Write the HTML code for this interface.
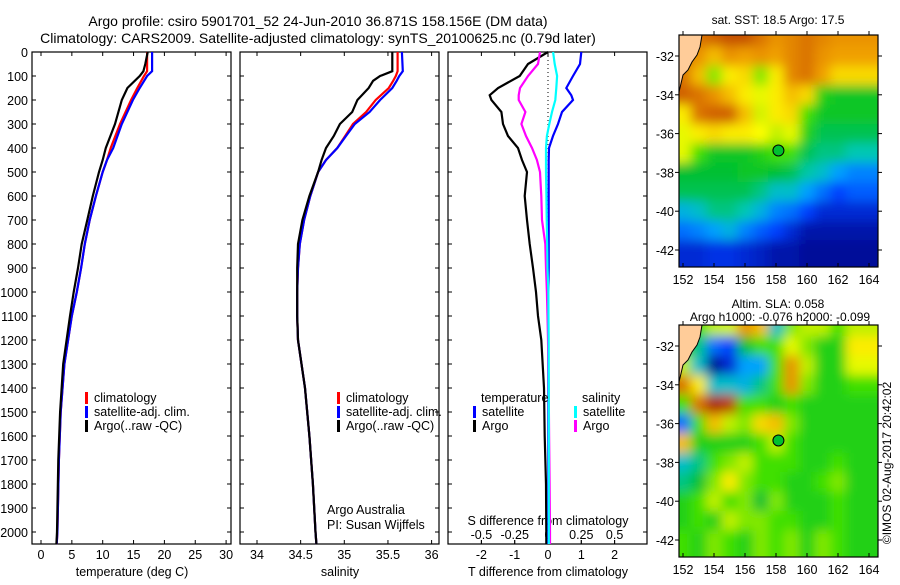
<!DOCTYPE html>
<html><head><meta charset="utf-8">
<style>
body{margin:0;background:#fff;}
svg text{font-family:"Liberation Sans",sans-serif;fill:#000;}
</style></head>
<body>
<svg id="fig" width="900" height="580" viewBox="0 0 900 580" xmlns="http://www.w3.org/2000/svg">
<defs>
<filter id="blur" x="-10%" y="-10%" width="120%" height="120%"><feGaussianBlur stdDeviation="5.5"/></filter>
<clipPath id="clip1"><rect x="679" y="35" width="199" height="232"/></clipPath>
<clipPath id="clip2"><rect x="679" y="325" width="199" height="232"/></clipPath>
</defs>
<text x="318" y="26" font-size="14" text-anchor="middle">Argo profile: csiro 5901701_52 24-Jun-2010 36.871S 158.156E (DM data)</text>
<text x="318" y="43" font-size="14" text-anchor="middle">Climatology: CARS2009. Satellite-adjusted climatology: synTS_20100625.nc (0.79d later)</text>
<g id="g"></g>
</svg>
<script>
// ---- profile data ----
const tDepth   = [0,50,80,100,150,200,300,400,450,500,600,700,800,900,1000,1100,1300,1500,1700,2000,2050];
const tArgo    = [17.3,16.9,16.6,16.0,14.0,13.1,12.0,10.5,10.0,9.4,8.4,7.5,6.6,6.0,5.3,4.7,3.6,3.1,2.8,2.6,2.5];
const tSat     = [18.0,18.0,18.0,17.2,16.0,14.9,13.1,11.7,10.7,10.0,8.9,7.9,7.1,6.5,5.8,5.0,3.8,3.2,2.9,2.65,2.55];
const tClim    = [17.2,17.2,17.2,16.7,15.6,14.6,12.8,11.3,10.7,10.0,8.9,7.9,7.1,6.5,5.8,5.0,3.8,3.2,2.9,2.65,2.55];
const sDepth   = [0,80,100,120,150,200,250,300,350,400,450,500,600,700,800,900,1000,1100,1200,1400,1600,1800,2000,2050];
const sArgo    = [35.55,35.55,35.41,35.33,35.28,35.15,35.09,34.95,34.88,34.79,34.74,34.70,34.60,34.52,34.47,34.46,34.46,34.46,34.47,34.55,34.60,34.64,34.67,34.68];
const sSat     = [35.66,35.67,35.63,35.60,35.55,35.41,35.29,35.12,35.02,34.92,34.79,34.70,34.61,34.54,34.49,34.47,34.46,34.46,34.47,34.55,34.60,34.64,34.67,34.68];
const sClim    = [35.61,35.61,35.59,35.56,35.51,35.36,35.25,35.10,35.01,34.92,34.79,34.70,34.61,34.54,34.49,34.47,34.46,34.46,34.47,34.55,34.60,34.64,34.67,34.68];
// ---- difference data ----
const dDepth   = [0,50,100,150,180,200,250,300,350,400,450,500,600,700,800,900,1000,1100,1200,1400,1600,1800,2000,2050];
const dTArgo   = [0,-0.6,-0.85,-1.5,-1.75,-1.7,-1.4,-1.35,-1.2,-0.9,-0.78,-0.63,-0.7,-0.63,-0.55,-0.45,-0.36,-0.3,-0.2,-0.12,-0.1,-0.06,-0.05,-0.05];
const dTSat    = [1.0,0.96,0.75,0.55,0.7,0.75,0.42,0.3,0.15,0.03,0.02,0.02,0.02,0.02,0.02,0.02,0.01,0.01,0.01,0.01,0.01,0.01,0.01,0.01];
const dSArgo   = [-0.06,-0.075,-0.15,-0.21,-0.22,-0.22,-0.17,-0.2,-0.165,-0.12,-0.083,-0.06,-0.05,-0.045,-0.02,-0.015,-0.008,-0.004,0,0.005,0.008,0.012,0.015,0.015];
const dSSat    = [0.038,0.05,0.068,0.062,0.058,0.055,0.03,0.01,-0.008,-0.015,-0.015,-0.015,-0.012,-0.01,-0.006,-0.004,0.003,0.004,0.005,0.006,0.006,0.006,0.006,0.006];
// ---- axis ticks ----
const depthTicks = [0,100,200,300,400,500,600,700,800,900,1000,1100,1200,1300,1400,1500,1600,1700,1800,1900,2000];
const tempTicks = [0,5,10,15,20,25,30];
const salTicks = ["34","34.5","35","35.5","36"];
const dTTicks = [-2,-1,0,1,2];
const dSTicks = ["-0.5","-0.25","0","0.25","0.5"];
const lonTicks = [152,154,156,158,160,162,164];
const latTicks = [-32,-34,-36,-38,-40,-42];
// ---- map grids (normalised colour index, rows lat -31..-42, cols lon 152..163) ----
const sstGrid = [
[.85,.85,.88,.9,.9,.85,.8,.82,.85,.82,.8,.8],
[.85,.8,.75,.8,.78,.8,.78,.82,.85,.8,.78,.78],
[.85,.75,.55,.7,.72,.55,.7,.82,.85,.78,.72,.72],
[.88,.85,.8,.75,.7,.65,.7,.75,.72,.45,.42,.42],
[.7,.85,.88,.88,.75,.62,.7,.72,.5,.42,.42,.42],
[.65,.7,.72,.7,.7,.68,.6,.65,.45,.38,.38,.38],
[.65,.5,.42,.42,.42,.45,.5,.5,.38,.35,.35,.32],
[.4,.4,.4,.4,.42,.42,.4,.38,.33,.3,.25,.22],
[.38,.38,.38,.38,.38,.35,.3,.3,.25,.2,.15,.18],
[.28,.3,.35,.35,.32,.28,.22,.2,.15,.1,.1,.1],
[.2,.22,.25,.28,.22,.18,.15,.1,.05,.05,.05,.05],
[.1,.1,.12,.12,.1,.08,.05,.05,.03,.03,.03,.03]];
const slaGrid = [
[.45,.5,.6,.62,.8,.75,.3,.55,.6,.6,.5,.6],
[.45,.35,.2,.15,.4,.5,.5,.65,.55,.45,.45,.7],
[.6,.3,.02,.1,.25,.25,.5,.8,.6,.45,.45,.65],
[.85,.7,.3,.3,.28,.35,.5,.8,.55,.45,.45,.5],
[.5,.85,.95,.92,.5,.5,.45,.5,.45,.45,.45,.45],
[.2,.5,.75,.6,.55,.72,.75,.55,.45,.45,.45,.45],
[.75,.45,.45,.45,.45,.5,.6,.5,.45,.45,.45,.45],
[.3,.35,.5,.55,.6,.5,.5,.5,.45,.45,.5,.45],
[.35,.4,.55,.7,.55,.5,.5,.45,.45,.5,.55,.45],
[.45,.5,.6,.5,.55,.4,.55,.45,.45,.45,.5,.45],
[.45,.5,.45,.6,.55,.55,.5,.5,.45,.45,.5,.45],
[.5,.45,.55,.5,.45,.55,.5,.55,.45,.55,.5,.45]];
const floatLon = 158.156, floatLat = -36.871;

const NS="http://www.w3.org/2000/svg";
const G=document.getElementById('g');
function mk(tag,attrs,parent){const e=document.createElementNS(NS,tag);for(const k in attrs)e.setAttribute(k,attrs[k]);(parent||G).appendChild(e);return e;}
const yD=d=>52+d*0.24;
const xT=t=>41+t*6.17;
const xS=s=>257+(s-34)*87.3;
const xdT=t=>548+t*33.3;
const xdS=s=>548+s*133.2;

function frame(x,y,w,h,name){const r=mk('rect',{x:x,y:y,width:w,height:h,fill:'none',stroke:'#000','stroke-width':1.2});

}
function txt(x,y,s,size,anchor,name){const t=mk('text',{x:x,y:y,'font-size':size,'text-anchor':anchor||'middle'});t.textContent=s;

return t;}
function line(xs,ys,col,name,w){let d='';for(let i=0;i<xs.length;i++)d+=(i?'L':'M')+xs[i].toFixed(1)+','+ys[i].toFixed(1);
const p=mk('path',{d:d,fill:'none',stroke:col,'stroke-width':w||2.2,'stroke-linejoin':'miter'});

}

// panels
const panels=[[32,'temperature-panel'],[240,'salinity-panel'],[448,'difference-panel']];
panels.forEach(([x0,n])=>{frame(x0,52,199,492,n+'-frame');
 depthTicks.forEach(d=>{mk('line',{x1:x0,x2:x0+4,y1:yD(d),y2:yD(d),stroke:'#000'});mk('line',{x1:x0+199,x2:x0+195,y1:yD(d),y2:yD(d),stroke:'#000'});});});
depthTicks.forEach(d=>txt(28,yD(d)+5,String(d),12.5,'end','depth-tick-label'));
// temp axis
tempTicks.forEach(t=>{mk('line',{x1:xT(t),x2:xT(t),y1:544,y2:540,stroke:'#000'});mk('line',{x1:xT(t),x2:xT(t),y1:52,y2:56,stroke:'#000'});txt(xT(t),559,String(t),12.5,'middle','temp-tick-label');});
txt(132,576,'temperature (deg C)',12.5,'middle','temperature-axis-title');
salTicks.forEach(s=>{const x=xS(parseFloat(s));mk('line',{x1:x,x2:x,y1:544,y2:540,stroke:'#000'});mk('line',{x1:x,x2:x,y1:52,y2:56,stroke:'#000'});txt(x,559,s,12.5,'middle','salinity-tick-label');});
txt(340,576,'salinity',12.5,'middle','salinity-axis-title');
dTTicks.forEach(t=>{const x=xdT(t);mk('line',{x1:x,x2:x,y1:544,y2:540,stroke:'#000'});mk('line',{x1:x,x2:x,y1:52,y2:56,stroke:'#000'});txt(x,559,String(t),12.5,'middle','t-diff-tick-label');});
dSTicks.forEach(s=>{const x=xdS(parseFloat(s));mk('line',{x1:x,x2:x,y1:544,y2:540,stroke:'#000'});txt(x,539,s,12.5,'middle','s-diff-tick-label');});
txt(548,525,'S difference from climatology',12.5,'middle','s-diff-axis-title');
txt(548,576,'T difference from climatology',12.5,'middle','t-diff-axis-title');
mk('line',{x1:548,x2:548,y1:52,y2:300,stroke:'#000','stroke-dasharray':'1,3'});

// series
line(tClim.map(xT),tDepth.map(yD),'#f00','temp-climatology-line');
line(tSat.map(xT),tDepth.map(yD),'#00f','temp-satellite-line');
line(tArgo.map(xT),tDepth.map(yD),'#000','temp-argo-line');
line(sClim.map(xS),sDepth.map(yD),'#f00','sal-climatology-line');
line(sSat.map(xS),sDepth.map(yD),'#00f','sal-satellite-line');
line(sArgo.map(xS),sDepth.map(yD),'#000','sal-argo-line');
line(dTArgo.map(xdT),dDepth.map(yD),'#000','t-diff-argo-line');
line(dTSat.map(xdT),dDepth.map(yD),'#00f','t-diff-satellite-line');
line(dSArgo.map(xdS),dDepth.map(yD),'#f0f','s-diff-argo-line');
line(dSSat.map(xdS),dDepth.map(yD),'#0ff','s-diff-satellite-line');

// legends
function leg(x,y,col,label,name){const r=mk('rect',{x:x,y:y-10,width:3,height:12,fill:col});


txt(x+9,y,label,12.5,'start',name+'-label');}
[[85,'temp-legend'],[337,'sal-legend']].forEach(([x,n])=>{
 leg(x,402,'#f00','climatology',n+'-climatology');
 leg(x,416,'#00f','satellite-adj. clim.',n+'-satellite');
 leg(x,430,'#000','Argo(..raw -QC)',n+'-argo');});
txt(481,402,'temperature',12.5,'start','diff-legend-temperature-heading');
leg(473,416,'#00f','satellite','diff-legend-temp-satellite');
leg(473,430,'#000','Argo','diff-legend-temp-argo');
txt(582,402,'salinity',12.5,'start','diff-legend-salinity-heading');
leg(574,416,'#0ff','satellite','diff-legend-sal-satellite');
leg(574,430,'#f0f','Argo','diff-legend-sal-argo');
txt(327,514,'Argo Australia',12.5,'start','credit-argo-australia');
txt(327,529,'PI: Susan Wijffels',12.5,'start','credit-pi');

// maps
const stops=[[0,[0,0,127]],[.15,[0,64,255]],[.25,[0,160,255]],[.32,[0,200,180]],[.4,[0,192,48]],[.5,[64,224,0]],[.6,[192,240,0]],[.68,[255,255,0]],[.78,[240,160,0]],[.88,[208,96,0]],[1,[144,0,0]]];
function cmap(v){for(let i=1;i<stops.length;i++){if(v<=stops[i][0]){const a=stops[i-1],b=stops[i],f=(v-a[0])/(b[0]-a[0]);return 'rgb('+a[1].map((c,k)=>Math.round(c+(b[1][k]-c)*f)).join(',')+')';}}return 'rgb(144,0,0)';}
function drawMap(grid,oy,clip,name,title1,title2){
 const x0=679,w=199,y0=35+oy,h=232;
 const xL=lon=>683+(lon-152)*15.5, yL=lat=>56+oy+(-32-lat)*19.4;
 const gc=mk('g',{'clip-path':'url(#'+clip+')'});
 
 
 const gb=mk('g',{filter:'url(#blur)'},gc);
 grid.forEach((row,r)=>row.forEach((v,c)=>{
  let x=xL(151.5+c), y=yL(-30.5-r), cw=15.5, ch=19.4;
  if(c===0){x-=30;cw+=30;} if(c===row.length-1)cw+=40;
  if(r===0){y-=30;ch+=30;} if(r===grid.length-1)ch+=30;
  const cell=mk('rect',{x:x,y:y,width:cw+0.5,height:ch+0.5,fill:cmap(v)},gb);
  
  
 }));
 const land=mk('path',{d:`M679,${y0} L702,${y0} L700,${y0+12} L697,${y0+20} L692,${y0+27} L688,${y0+35} L683,${y0+40} L679,${y0+57} Z`,fill:'#ffcc99',stroke:'#000','stroke-width':1},gc);
 
 
 frame(x0,y0,w,h,name+'-frame');
 lonTicks.forEach(l=>{mk('line',{x1:xL(l),x2:xL(l),y1:y0+h,y2:y0+h-4,stroke:'#000'});mk('line',{x1:xL(l),x2:xL(l),y1:y0,y2:y0-4,stroke:'#000'});txt(xL(l),y0+h+17,String(l),12.5,'middle',name+'-lon-tick');});
 latTicks.forEach(l=>{mk('line',{x1:x0,x2:x0-4,y1:yL(l),y2:yL(l),stroke:'#000'});mk('line',{x1:x0+w,x2:x0+w+4,y1:yL(l),y2:yL(l),stroke:'#000'});txt(x0-5,yL(l)+5,String(l),12.5,'end',name+'-lat-tick');});
 const c=mk('circle',{cx:xL(floatLon),cy:yL(floatLat),r:5.5,fill:'#00c030',stroke:'#000','stroke-width':1});
 
 
 if(title2){txt(778,y0-17,title1,12,'middle',name+'-title');txt(780,y0-4,title2,12,'middle',name+'-subtitle');}
 else txt(778,y0-11,title1,12,'middle',name+'-title');
}
drawMap(sstGrid,0,'clip1','sst-map','sat. SST: 18.5 Argo: 17.5');
drawMap(slaGrid,290,'clip2','sla-map','Altim. SLA: 0.058','Argo h1000: -0.076 h2000: -0.099');
const cr=txt(0,0,'©IMOS 02-Aug-2017 20:42:02',12,'middle','copyright-stamp');
cr.setAttribute('transform','translate(891,463) rotate(-90)');
</script>
</body></html>
